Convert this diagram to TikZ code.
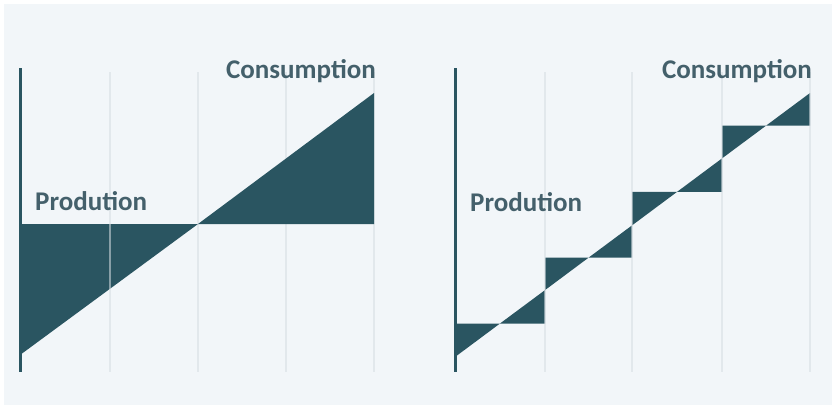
\documentclass[tikz,border=0pt]{standalone}
\usepackage{fontspec}
\setmainfont{Carlito}
\definecolor{bgc}{HTML}{F2F6F9}
\definecolor{fillc}{HTML}{2A5561}
\definecolor{gridc}{HTML}{D6DDE2}
\definecolor{txtc}{HTML}{44606B}
\tikzset{
  gridline/.style={draw=gridc, line width=1.4pt, draw opacity=0.55},
  axisline/.style={draw=fillc, line width=3pt},
  area/.style={fill=fillc, draw=none},
  lbl/.style={text=txtc, font=\fontsize{27}{29}\selectfont\bfseries, inner sep=0pt}
}
\begin{document}
\begin{tikzpicture}[x=1pt,y=-1pt]
\useasboundingbox (0,0) rectangle (832,407);
\fill[bgc] (4,4) rectangle (832,405);
% left panel
\foreach \gx in {198,286,374} \draw[gridline] (\gx,72) -- (\gx,372);
\fill[area] (20,224) -- (198,224) -- (20,355) -- cycle;
\fill[area] (198,224) -- (374,93) -- (374,224) -- cycle;
\draw[gridline] (110,72) -- (110,372);
\draw[axisline] (20,68) -- (20,372);
\node[lbl, anchor=base east] (lc) at (376,78) {Consumption};
\node[lbl, anchor=base west] (lp) at (35,210) {Prodution};
% right panel
\fill[area] (455,323.5) -- (500,323.5) -- (455,357) -- cycle;
\fill[area] (500,323.5) -- (545,323.5) -- (545,290.1) -- cycle;
\fill[area] (545,257.7) -- (588.5,257.7) -- (545,290.1) -- cycle;
\fill[area] (588.5,257.7) -- (632,257.7) -- (632,225.4) -- cycle;
\fill[area] (632,191.9) -- (677,191.9) -- (632,225.4) -- cycle;
\fill[area] (677,191.9) -- (722,191.9) -- (722,158.4) -- cycle;
\fill[area] (722,125.7) -- (766,125.7) -- (722,158.4) -- cycle;
\fill[area] (766,125.7) -- (810,125.7) -- (810,93) -- cycle;
\foreach \gx in {545,632,722,810} \draw[gridline] (\gx,72) -- (\gx,372);
\draw[axisline] (455,68) -- (455,372);
\node[lbl, anchor=base east] (rc) at (812,78) {Consumption};
\node[lbl, anchor=base west] (rp) at (470,211) {Prodution};
\end{tikzpicture}
\end{document}
